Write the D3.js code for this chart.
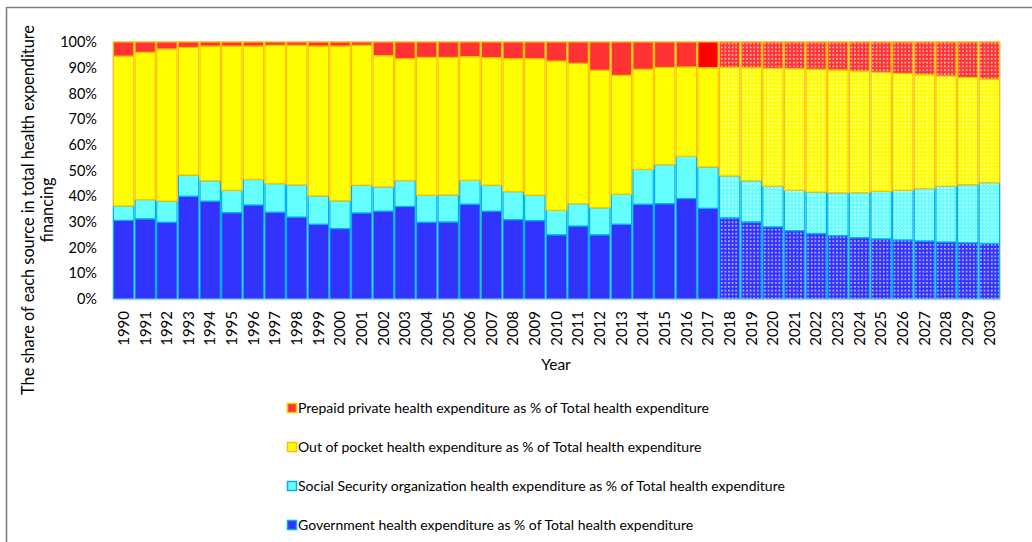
<!DOCTYPE html>
<html>
<head>
<meta charset="utf-8">
<script src="https://cdn.jsdelivr.net/npm/d3@7"></script>
<style>
  body { margin: 0; background: #fff; }
  text { font-family: Lato, 'Open Sans', sans-serif; fill: #000; }
</style>
</head>
<body>
<div id="chart"></div>
<script>
let width = 1032;
let height = 542;

let years = d3.range(1990, 2031).map(String);

let government = [30.6, 31.2, 29.9, 40.0, 38.1, 33.6, 36.6, 33.8, 31.9, 29.1,
  27.4, 33.5, 34.2, 36.0, 29.9, 30.0, 36.9, 34.2, 30.9, 30.5,
  25.0, 28.4, 25.0, 29.1, 36.9, 37.1, 39.1, 35.3, 31.6, 30.0,
  28.1, 26.6, 25.5, 24.7, 23.9, 23.4, 23.0, 22.6, 22.2, 21.9, 21.6];
let socialSecurity = [5.6, 7.5, 8.2, 8.2, 7.9, 8.7, 9.9, 11.1, 12.5, 11.0,
  10.8, 10.8, 9.4, 10.1, 10.5, 10.5, 9.3, 10.1, 10.9, 9.9,
  9.5, 8.7, 10.5, 11.7, 13.5, 15.2, 16.4, 16.1, 16.3, 16.0,
  15.8, 15.7, 16.1, 16.6, 17.5, 18.5, 19.3, 20.4, 21.7, 22.6, 23.7];
let outOfPocket = [58.3, 57.3, 59.2, 49.7, 52.4, 56.1, 51.9, 53.8, 54.3, 58.3,
  60.2, 54.4, 51.1, 47.4, 53.6, 53.5, 48.1, 49.6, 51.7, 53.1,
  58.1, 54.6, 53.5, 46.2, 39.0, 37.8, 34.8, 38.6, 42.2, 44.0,
  45.8, 47.3, 47.8, 47.8, 47.3, 46.3, 45.5, 44.3, 42.9, 41.7, 40.3];
let prepaid = [5.5, 4.0, 2.7, 2.1, 1.6, 1.6, 1.6, 1.3, 1.3, 1.6,
  1.6, 1.3, 5.3, 6.5, 6.0, 6.0, 5.7, 6.1, 6.5, 6.5,
  7.4, 8.3, 11.0, 13.0, 10.6, 9.9, 9.7, 10.0, 9.9, 10.0,
  10.3, 10.4, 10.6, 10.9, 11.3, 11.8, 12.2, 12.7, 13.2, 13.8, 14.4];

let firstForecastYear = 2018;

let seriesKeys = ['gov', 'ss', 'oop', 'pre'];
let seriesLabels = {
  pre: 'Prepaid private health expenditure as % of Total health expenditure',
  oop: 'Out of pocket health expenditure as % of Total health expenditure',
  ss: 'Social Security organization health expenditure as % of Total health expenditure',
  gov: 'Government health expenditure as % of Total health expenditure'
};
let fills = { gov: '#3333FF', ss: '#66FFFF', oop: '#FFFF00', pre: '#FF3333' };
let strokes = { gov: '#00B0F0', ss: '#00B0F0', oop: '#FFC000', pre: '#FFC000' };

let rows = years.map(function(y, i) {
  return { year: y, gov: government[i], ss: socialSecurity[i], oop: outOfPocket[i], pre: prepaid[i] };
});

let stacked = d3.stack()
  .keys(seriesKeys)
  .offset(d3.stackOffsetExpand)(rows);

let svg = d3.select('#chart')
  .append('svg')
  .attr('width', width)
  .attr('height', height);

// dotted patterns for the projected years
let defs = svg.append('defs');
seriesKeys.forEach(function(k) {
  let p = defs.append('pattern')
    .attr('id', 'dots-' + k)
    .attr('patternUnits', 'userSpaceOnUse')
    .attr('width', 3.6)
    .attr('height', 3.8);
  p.append('rect')
    .attr('width', 3.6)
    .attr('height', 3.8)
    .attr('fill', fills[k]);
  p.append('rect')
    .attr('x', 1)
    .attr('y', 1)
    .attr('width', 1.5)
    .attr('height', 1.5)
    .attr('fill', '#fff')
    .attr('opacity', 0.85);
});

// outer frame
svg.append('path')
  .attr('d', 'M6.5,' + (height + 5) + 'V7.5H' + (width + 5))
  .attr('fill', 'none')
  .attr('stroke', '#808080')
  .attr('stroke-width', 1.6);

let x = d3.scaleBand()
  .domain(years)
  .range([113, 1000])
  .paddingInner(0.06)
  .paddingOuter(0.02);

let y = d3.scaleLinear()
  .domain([0, 1])
  .range([299, 42]);

// plot area border
svg.append('rect')
  .attr('x', 113)
  .attr('y', 41.5)
  .attr('width', 887)
  .attr('height', 257.5)
  .attr('fill', 'none')
  .attr('stroke', '#D5DEE8')
  .attr('stroke-width', 1);

svg.selectAll('g.layer')
  .data(stacked)
  .enter()
  .append('g')
  .attr('class', 'layer')
  .each(function(s) {
    d3.select(this).selectAll('rect')
      .data(s)
      .enter()
      .append('rect')
      .attr('x', function(d) { return x(d.data.year); })
      .attr('width', x.bandwidth())
      .attr('y', function(d) { return y(d[1]); })
      .attr('height', function(d) { return y(d[0]) - y(d[1]); })
      .attr('fill', function(d) {
        if (+d.data.year >= firstForecastYear) return 'url(#dots-' + s.key + ')';
        if (s.key === 'pre' && d.data.year === '2017') return '#FF0000';
        return fills[s.key];
      })
      .attr('stroke', strokes[s.key])
      .attr('stroke-width', 1.2);
  });

// bottom axis line
svg.append('line')
  .attr('x1', 113)
  .attr('x2', 1000)
  .attr('y1', 299.5)
  .attr('y2', 299.5)
  .attr('stroke', '#B4C7D8')
  .attr('stroke-width', 1.5);

let yAxis = svg.append('g')
  .attr('transform', 'translate(104,0)')
  .call(d3.axisLeft(y).ticks(10).tickFormat(d3.format('.0%')).tickSize(0).tickPadding(7));
yAxis.select('.domain').remove();
yAxis.selectAll('text')
  .style('font-size', '14.5px')
  .style('font-family', 'Lato, sans-serif');

let xAxis = svg.append('g')
  .attr('transform', 'translate(0,299)')
  .call(d3.axisBottom(x).tickSize(0).tickPadding(0));
xAxis.select('.domain').remove();
xAxis.selectAll('text')
  .attr('transform', 'rotate(-90)')
  .attr('x', -12)
  .attr('y', 0)
  .attr('dy', '0.35em')
  .attr('text-anchor', 'end')
  .style('font-size', '15px')
  .style('font-family', 'Lato, sans-serif');

svg.append('text')
  .attr('x', 556)
  .attr('y', 370)
  .attr('text-anchor', 'middle')
  .style('font-size', '15.5px')
  .text('Year');

let yTitle = svg.append('text')
  .attr('transform', 'translate(34,210) rotate(-90)')
  .attr('text-anchor', 'middle')
  .style('font-size', '16.3px');
yTitle.append('tspan')
  .attr('x', 0)
  .attr('y', 0)
  .text('The share of each source in total health expenditure');
yTitle.append('tspan')
  .attr('x', 0)
  .attr('y', 19)
  .text('financing');

let legendKeys = ['pre', 'oop', 'ss', 'gov'];
let legend = svg.selectAll('g.legend')
  .data(legendKeys)
  .enter()
  .append('g')
  .attr('class', 'legend')
  .attr('transform', function(d, i) { return 'translate(287,' + (403 + i * 39) + ')'; });

legend.append('rect')
  .attr('x', 0.5)
  .attr('y', 0.5)
  .attr('width', 9)
  .attr('height', 9)
  .attr('fill', function(d) { return fills[d]; })
  .attr('stroke', function(d) { return d === 'pre' || d === 'oop' ? '#FFC000' : '#00B0F0'; })
  .attr('stroke-width', 1.5);

legend.append('text')
  .attr('x', 11)
  .attr('y', 9.5)
  .style('font-size', '14px')
  .text(function(d) { return seriesLabels[d]; });
</script>
</body>
</html>
